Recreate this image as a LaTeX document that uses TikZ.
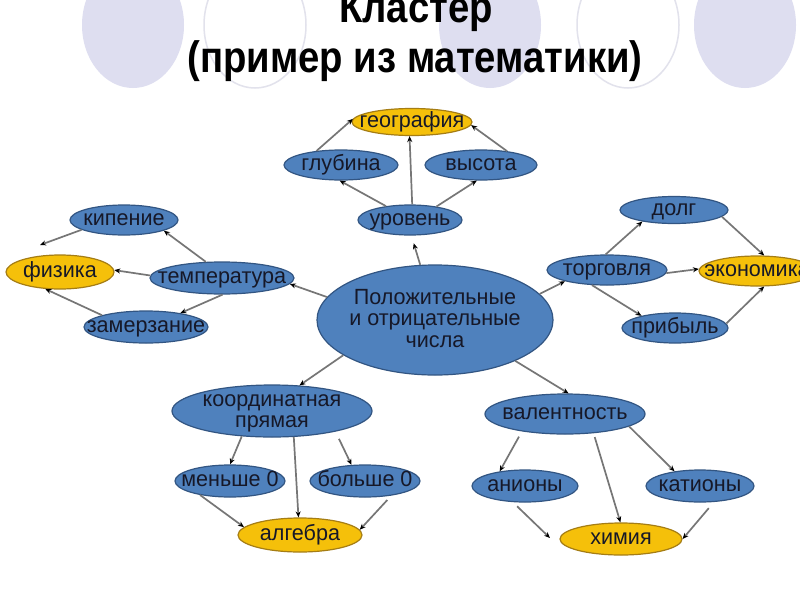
\documentclass[tikz,border=0pt]{standalone}
\usepackage{fontspec}
\setmainfont{Liberation Sans}
\usetikzlibrary{shapes.geometric,arrows.meta}
\definecolor{nblue}{RGB}{79,129,189}
\definecolor{nbluedark}{RGB}{50,85,130}
\definecolor{nyel}{RGB}{245,192,10}
\definecolor{nyeldark}{RGB}{165,125,20}
\definecolor{ntext}{RGB}{22,24,40}
\definecolor{lav}{RGB}{222,222,240}
\definecolor{lavline}{RGB}{226,226,236}
\definecolor{lineg}{RGB}{118,118,118}
\newcommand{\nt}[1]{\scalebox{0.98}[1]{\smash{#1}\vphantom{x}}}
\tikzset{
  lbl/.style={font=\fontsize{22}{23}\selectfont, text=ntext, inner sep=0pt},
  bub/.style={ellipse, draw=nbluedark, fill=nblue, line width=1.2pt, inner sep=0pt},
  ybub/.style={ellipse, draw=nyeldark, fill=nyel, line width=1.2pt, inner sep=0pt},
  arr/.style={draw=lineg, line width=1.7pt, -{Stealth[length=6pt,width=5pt,black]}},
  ttl/.style={font=\bfseries\fontsize{44}{48}\selectfont, text=black, inner sep=0pt, anchor=base},
  bgc/.style={fill=lav, draw=none},
  bgo/.style={draw=lavline, line width=1.5pt, fill=none}
}
\begin{document}
\begin{tikzpicture}[x=1pt,y=-1pt]
\path[use as bounding box, fill=white] (0,0) rectangle (800,600);
\begin{scope}
\clip (0,0) rectangle (800,600);
% background circles
\path[bgc] (133,25) ellipse [x radius=51, y radius=63];
\path[bgo] (255,25) ellipse [x radius=51, y radius=63];
\path[bgc] (490,25) ellipse [x radius=51, y radius=63];
\path[bgo] (628,25) ellipse [x radius=51, y radius=63];
\path[bgc] (745,25) ellipse [x radius=51, y radius=63];
% title
\node[ttl] (t1) at (416,22) {\scalebox{0.87}[1]{Кластер}};
\node[ttl] (t2) at (415,72) {\scalebox{0.87}[1]{(пример из математики)}};

% centre
\node[bub, minimum width=236pt, minimum height=110pt,
  label={[lbl,align=center,font=\fontsize{22}{21.5}\selectfont]center:\nt{Положительные}\\\nt{и отрицательные}\\\nt{числа}}] (C) at (435,320) {};

% top cluster
\node[bub, minimum width=104pt, minimum height=30pt, label={[lbl]center:\nt{уровень}}] (U) at (410,220) {};
\node[bub, minimum width=114pt, minimum height=30pt, label={[lbl]center:\nt{глубина}}] (G) at (341,165) {};
\node[bub, minimum width=112pt, minimum height=30pt, label={[lbl]center:\nt{высота}}] (V) at (481,165) {};
\node[ybub, minimum width=120pt, minimum height=27pt, label={[lbl]center:\nt{география}}] (Geo) at (412,122) {};

% left cluster
\node[bub, minimum width=144pt, minimum height=32pt, label={[lbl]center:\nt{температура}}] (T) at (222,278) {};
\node[bub, minimum width=108pt, minimum height=30pt, label={[lbl]center:\nt{кипение}}] (K) at (124,220) {};
\node[ybub, minimum width=108pt, minimum height=34pt, label={[lbl]center:\nt{физика}}] (F) at (60,272) {};
\node[bub, minimum width=124pt, minimum height=32pt, label={[lbl]center:\nt{замерзание}}] (Z) at (146,327) {};
\coordinate (kf) at (40,245);

% right cluster
\node[bub, minimum width=120pt, minimum height=30pt, label={[lbl]center:\nt{торговля}}] (Tr) at (607,270) {};
\node[bub, minimum width=108pt, minimum height=27pt, label={[lbl]center:\nt{долг}}] (D) at (674,210) {};
\node[ybub, minimum width=116pt, minimum height=30pt, label={[lbl]center:\nt{экономика}}] (E) at (757,271) {};
\node[bub, minimum width=106pt, minimum height=30pt, label={[lbl]center:\nt{прибыль}}] (P) at (675,328) {};

% bottom left
\node[bub, minimum width=200pt, minimum height=52pt,
  label={[lbl,align=center,font=\fontsize{22}{21}\selectfont]center:\nt{координатная}\\\nt{прямая}}] (KP) at (272,411) {};
\node[bub, minimum width=110pt, minimum height=32pt, label={[lbl]center:\nt{меньше 0}}] (M) at (230,481) {};
\node[bub, minimum width=110pt, minimum height=32pt, label={[lbl]center:\nt{больше 0}}] (B) at (365,481) {};
\node[ybub, minimum width=124pt, minimum height=34pt, label={[lbl]center:\nt{алгебра}}] (A) at (300,535) {};

% bottom right
\node[bub, minimum width=160pt, minimum height=40pt, label={[lbl]center:\nt{валентность}}] (Va) at (565,414) {};
\node[bub, minimum width=106pt, minimum height=32pt, label={[lbl]center:\nt{анионы}}] (An) at (525,486) {};
\node[bub, minimum width=108pt, minimum height=32pt, label={[lbl]center:\nt{катионы}}] (Ka) at (700,486) {};
\node[ybub, minimum width=122pt, minimum height=32pt, label={[lbl]center:\nt{химия}}] (X) at (621,539) {};
\coordinate (ax) at (550,538);

% connectors
\draw[arr, shorten >=8pt] (C.105) -- (U.-85);
\draw[arr] (U.150) -- (G.-95);
\draw[arr] (U.27) -- (V.-105);
\draw[arr] (U.82) -- (Geo.-100);
\draw[arr] (G.150) -- (Geo.177);
\draw[arr] (V.28) -- (Geo.-3);

\draw[arr] (C.168) -- (T.-5);
\draw[arr] (T.135) -- (K.-15);
\draw[arr] (T.178) -- (F.2);
\draw[arr] (T.-88) -- (Z.22);
\draw[arr] (K.193) -- (kf);
\draw[arr] (Z.165) -- (F.-131);

\draw[arr] (C.14) -- (Tr.195);
\draw[arr] (Tr.95) -- (D.200);
\draw[arr] (Tr.-3) -- (E.178);
\draw[arr] (Tr.-135) -- (P.160);
\draw[arr] (D.-8) -- (E.65);
\draw[arr] (P.5) -- (E.-65);

\draw[arr] (C.201) -- (KP.43);
\draw[arr] (KP.-140) -- (M.90);
\draw[arr] (KP.-50) -- (A.95);
\draw[arr, shorten <=8pt] (KP.-18) -- (B.130);
\draw[arr] (M.-155) -- (A.172);
\draw[arr, shorten <=6pt] (B.-29) -- (A.5);

\draw[arr] (C.-27) -- (Va.80);
\draw[arr, shorten <=6pt] (Va.-158) -- (An.150);
\draw[arr, shorten <=4pt] (Va.-34) -- (X.92);
\draw[arr] (Va.-11) -- (Ka.150);
\draw[arr, shorten <=6pt] (An.-127) -- (ax);
\draw[arr, shorten <=8pt] (Ka.-49) -- (X.0);
\end{scope}
\end{tikzpicture}
\end{document}
